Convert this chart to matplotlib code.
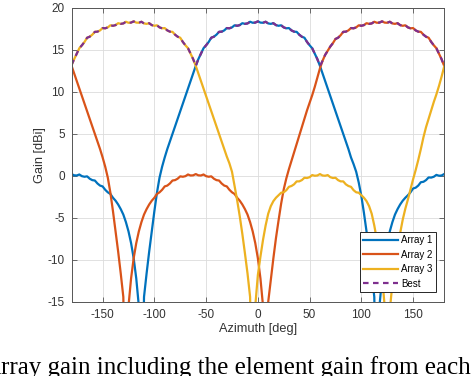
import numpy as np
import matplotlib
matplotlib.use("Agg")
import matplotlib.pyplot as plt

# azimuth grid, 2.5 deg steps from -180 to 180
azimuth = np.arange(-180, 180.01, 2.5)

array1 = [
    0.22, 0.07, 0.05, 0.17, -0.03, -0.10, -0.05, -0.33, -0.50, -0.55,
    -0.90, -1.15, -1.25, -1.65, -1.95, -2.15, -2.60, -2.95, -3.40, -3.95,
    -4.60, -5.50, -6.60, -8.00, -9.80, -12.2, -15.5, -30.0, -14.4, -11.6,
    -9.0, -6.6, -4.2, -2.0, -0.2, 1.1, 2.2, 3.2, 4.1, 5.0,
    5.9, 6.8, 7.7, 8.6, 9.5, 10.4, 11.3, 12.2, 13.1, 13.9,
    14.55, 15.2, 15.55, 15.95, 16.45, 16.57, 16.81, 17.15, 17.17, 17.32,
    17.60, 17.57, 17.68, 17.93, 17.87, 17.95, 18.18, 18.10, 18.15, 18.35,
    18.23, 18.25, 18.40, 18.25, 18.23, 18.35, 18.15, 18.10, 18.18, 17.95,
    17.87, 17.93, 17.68, 17.57, 17.60, 17.32, 17.17, 17.15, 16.81, 16.57,
    16.45, 15.95, 15.55, 15.2, 14.55, 13.9, 13.1, 12.2, 11.3, 10.4,
    9.5, 8.6, 7.7, 6.8, 5.9, 5.0, 4.1, 3.2, 2.2, 1.4,
    0.5, -0.8, -2.4, -4.4, -6.6, -9.0, -11.6, -14.4, -30.0, -15.5,
    -12.2, -9.8, -8.0, -6.6, -5.5, -4.6, -3.95, -3.4, -2.95, -2.6,
    -2.30, -1.95, -1.50, -1.40, -1.15, -0.75, -0.70, -0.50, -0.18, -0.20,
    -0.10, 0.12, 0.02, 0.05, 0.22,
]

array2 = [
    13.1, 12.2, 11.3, 10.4, 9.5, 8.6, 7.7, 6.8, 5.9, 5.0,
    4.1, 3.2, 2.2, 1.1, -0.2, -2.0, -4.2, -6.6, -9.0, -11.6,
    -14.4, -30.0, -15.5, -12.2, -9.8, -8.0, -6.6, -5.5, -4.6, -3.95,
    -3.4, -2.95, -2.6, -2.15, -1.95, -1.65, -1.25, -1.15, -0.90, -0.55,
    -0.50, -0.33, -0.05, -0.10, -0.03, 0.17, 0.05, 0.07, 0.22, 0.07,
    0.05, 0.17, -0.03, -0.10, -0.05, -0.33, -0.50, -0.55, -0.90, -1.15,
    -1.25, -1.65, -1.95, -2.15, -2.6, -2.95, -3.4, -3.95, -4.6, -5.5,
    -6.6, -8.0, -9.8, -12.2, -15.5, -30.0, -15.0, -12.4, -9.8, -7.4,
    -5.3, -3.3, -1.6, -0.3, 0.8, 1.8, 2.8, 3.8, 4.8, 5.8,
    6.8, 7.8, 8.7, 9.6, 10.6, 11.7, 12.8, 13.7, 14.4, 14.9,
    15.4, 15.8, 16.3, 16.45, 16.75, 17.15, 17.17, 17.32, 17.60, 17.57,
    17.68, 17.93, 17.87, 17.95, 18.18, 18.10, 18.15, 18.35, 18.23, 18.25,
    18.40, 18.25, 18.23, 18.35, 18.15, 18.10, 18.18, 17.95, 17.87, 17.93,
    17.68, 17.57, 17.60, 17.32, 17.17, 17.15, 16.81, 16.57, 16.45, 15.95,
    15.55, 15.2, 14.55, 13.9, 13.1,
]

array3 = [
    13.2, 13.9, 14.55, 15.2, 15.55, 15.95, 16.45, 16.57, 16.81, 17.15,
    17.17, 17.32, 17.60, 17.57, 17.68, 17.93, 17.87, 17.95, 18.18, 18.10,
    18.15, 18.35, 18.23, 18.25, 18.40, 18.25, 18.23, 18.35, 18.15, 18.10,
    18.18, 17.95, 17.87, 17.93, 17.68, 17.57, 17.60, 17.32, 17.17, 17.15,
    16.81, 16.57, 16.45, 15.95, 15.55, 15.2, 14.55, 13.9, 13.1, 12.2,
    11.3, 10.4, 9.5, 8.6, 7.7, 6.8, 5.9, 5.0, 4.1, 3.2,
    2.3, 1.5, 0.5, -1.2, -2.9, -4.8, -6.9, -9.2, -11.6, -14.4,
    -30.0, -15.5, -11.8, -9.6, -7.6, -5.9, -4.5, -3.6, -3.0, -2.6,
    -2.3, -2.0, -1.95, -1.70, -1.30, -1.20, -1.00, -0.65, -0.65, -0.50,
    -0.22, -0.25, -0.15, 0.10, 0.02, 0.05, 0.22, 0.05, 0.02, 0.10,
    -0.15, -0.25, -0.22, -0.50, -0.65, -0.65, -1.00, -1.20, -1.30, -1.70,
    -1.95, -2.0, -2.3, -2.6, -3.0, -3.6, -4.5, -5.9, -7.6, -9.6,
    -11.8, -15.5, -30.0, -16.0, -12.8, -10.6, -8.6, -6.8, -5.2, -3.9,
    -2.8, -1.6, -0.4, 0.7, 1.9, 3.2, 4.6, 5.8, 6.8, 7.8,
    8.8, 9.7, 10.7, 11.8, 13.0,
]

best = np.maximum.reduce([array1, array2, array3])

labels = ['Array 1', 'Array 2', 'Array 3', 'Best']
colors = ['#0072BD', '#D95319', '#EDB120', '#7E2F8E']
x_ticks = [-150, -100, -50, 0, 50, 100, 150]
y_ticks = [-15, -10, -5, 0, 5, 10, 15, 20]

plt.rcParams['font.family'] = ['Liberation Sans', 'DejaVu Sans']
plt.rcParams['axes.unicode_minus'] = False

fig = plt.figure(figsize=(4.74, 3.76), dpi=100)
ax = fig.add_axes([0.151, 0.197, 0.786, 0.782])

for data, label, color in zip([array1, array2, array3], labels[:3], colors[:3]):
    ax.plot(azimuth, data, color=color, lw=1.6, label=label)
ax.plot(azimuth, best, color=colors[3], lw=1.6, ls=(0, (2.5, 2.0)), label=labels[3])

ax.set_xlim(-180, 180)
ax.set_ylim(-15, 20)
ax.set_xticks(x_ticks)
ax.set_yticks(y_ticks)
ax.grid(True, color='#dcdcdc', lw=0.6)
ax.set_axisbelow(True)
ax.tick_params(direction='in', top=True, right=True, length=3.5, width=0.6,
               labelsize=8.5, colors='#555555', labelcolor='#333333', pad=5)
for sp in ax.spines.values():
    sp.set_color('#555555')
    sp.set_linewidth(0.7)

ax.set_xlabel('Azimuth [deg]', fontsize=9.2, color='#333333')
ax.xaxis.set_label_coords(0.5, -0.072)
ax.set_ylabel('Gain [dBi]', fontsize=9.2, color='#333333', va='center')
ax.yaxis.set_label_coords(-0.085, 0.5)

leg = ax.legend(loc='lower right', bbox_to_anchor=(0.978, 0.034), borderaxespad=0,
                fontsize=7, handlelength=3.6, handletextpad=0.3, borderpad=0.35,
                labelspacing=0.45, fancybox=False, framealpha=1)
leg.get_frame().set_edgecolor('#262626')
leg.get_frame().set_linewidth(0.7)

fig.text(-0.036, 0.004, 'Array gain including the element gain from each',
         family=['Liberation Serif', 'DejaVu Serif'], fontsize=18, va='baseline', ha='left')

fig.savefig('out.png', dpi=100)
